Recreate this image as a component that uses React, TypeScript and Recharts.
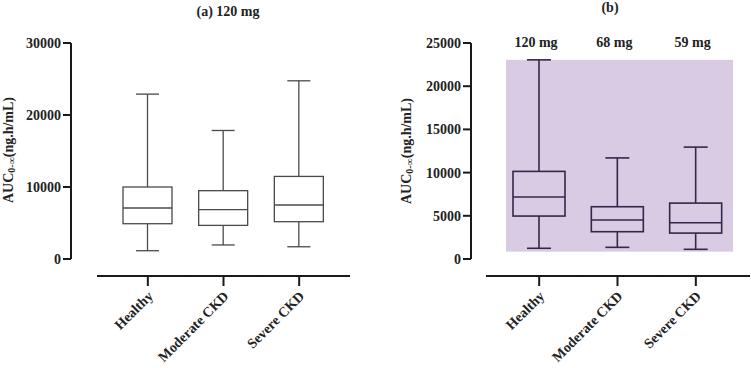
import React from 'react';
import { ComposedChart, Bar, XAxis, YAxis, ReferenceArea, LabelList } from 'recharts';

// box plot summaries per group (AUC, ng.h/mL)
const groups = ['Healthy', 'Moderate CKD', 'Severe CKD'];

// (a) all groups dosed at 120 mg
const minA = [1150, 1950, 1700];
const q1A = [4900, 4670, 5180];
const medianA = [7080, 6850, 7500];
const q3A = [10000, 9490, 11470];
const maxA = [22900, 17850, 24750];

// (b) dose-adjusted groups
const minB = [1240, 1350, 1120];
const q1B = [4970, 3160, 3000];
const medianB = [7170, 4510, 4200];
const q3B = [10140, 6050, 6470];
const maxB = [23050, 11700, 12950];
const dosesB = ['120 mg', '68 mg', '59 mg'];

const ticksA = [0, 10000, 20000, 30000];
const ticksB = [0, 5000, 10000, 15000, 20000, 25000];

// shaded band behind the boxes in (b)
const shadeLow = 850;
const shadeHigh = maxB[0];

const rowsA = groups.map((name, i) => ({
    name, min: minA[i], q1: q1A[i], median: medianA[i], q3: q3A[i], max: maxA[i],
}));
const rowsB = groups.map((name, i) => ({
    name, min: minB[i], q1: q1B[i], median: medianB[i], q3: q3B[i], max: maxB[i], dose: dosesB[i],
}));

const SERIF = "'Liberation Serif', 'Times New Roman', serif";
const AXIS = '#1a1a1a';
const tickStyle = { fontSize: 14, fontWeight: 'bold', fill: '#222', fontFamily: SERIF };

// draws whiskers, box and median from the [min, max] bar rectangle
const makeBox = (color: string, capW: number, sw: number) => (props: any) => {
    const { x, y, width, height, payload } = props;
    const { min, q1, median, q3, max } = payload;
    const py = (v: number) => y + ((max - v) / (max - min)) * height;
    const cx = x + width / 2;
    return (
        <g stroke={color} strokeWidth={sw} fill="none">
            <line x1={cx} x2={cx} y1={py(max)} y2={py(q3)} />
            <line x1={cx} x2={cx} y1={py(q1)} y2={py(min)} />
            <line x1={cx - capW / 2} x2={cx + capW / 2} y1={py(max)} y2={py(max)} />
            <line x1={cx - capW / 2} x2={cx + capW / 2} y1={py(min)} y2={py(min)} />
            <rect x={x} y={py(q3)} width={width} height={py(q1) - py(q3)} />
            <line x1={x} x2={x + width} y1={py(median)} y2={py(median)} />
        </g>
    );
};

// rotated category label; each tick also lays down its own stretch of the axis line
const makeXTick = (band: number, padL: number, padR: number) => (props: any) => {
    const { x, y, payload, index } = props;
    const axisY = y - 12;
    const last = groups.length - 1;
    const x1 = x - band / 2 - (index === 0 ? padL : 0);
    const x2 = x + band / 2 + (index === last ? padR : 0);
    return (
        <g>
            <line x1={x1} x2={x2} y1={axisY} y2={axisY} stroke={AXIS} strokeWidth={2} />
            <g transform={`translate(${x + 6},${y + 9})`}>
                <text textAnchor="end" transform="rotate(-45)" style={tickStyle} fill="#222">
                    {payload.value}
                </text>
            </g>
        </g>
    );
};

const YTitle = ({ cx, cy }: { cx: number; cy: number }) => (
    <text
        x={cx} y={cy} transform={`rotate(-90, ${cx}, ${cy})`}
        textAnchor="middle" dominantBaseline="central"
        style={{ fontSize: 14, fontWeight: 'bold', fontFamily: SERIF }} fill="#222"
    >
        <tspan>AUC</tspan>
        <tspan fontSize={10} dy={3}>0-∞</tspan>
        <tspan dy={-3}>(ng.h/mL)</tspan>
    </text>
);

const DoseLabel = (props: any) => {
    const { x, width, value } = props;
    return (
        <text x={x + width / 2 - 3} y={47} textAnchor="middle" style={tickStyle} fill="#222">
            {value}
        </text>
    );
};

const yAxisProps = {
    axisLine: { stroke: AXIS, strokeWidth: 2 },
    tickLine: { stroke: AXIS, strokeWidth: 2 },
    tickSize: 8,
    tick: tickStyle,
    interval: 0 as const,
};

// the value chart stops just under zero; the category axis strip sits below it
const TOP_H = 268;

// detached category axis strip
const CategoryAxis = ({ data, width, left, right, padding, band }: any) => (
    <ComposedChart width={width} height={368 - TOP_H} data={data} margin={{ top: 0, right, bottom: 0, left }}>
        <XAxis
            dataKey="name" scale="band" height={92} interval={0} tickSize={10} padding={padding}
            axisLine={{ stroke: AXIS, strokeWidth: 2 }} tickLine={{ stroke: AXIS, strokeWidth: 2 }}
            tick={makeXTick(band, padding.left, padding.right)}
        />
        <YAxis hide domain={[0, 1]} />
    </ComposedChart>
);

const PanelA = () => (
    <div style={{ position: 'absolute', left: 0, top: 0, width: 375, height: 368 }}>
        <div style={{ position: 'absolute', left: 0, width: 456, top: 4, textAlign: 'center', font: `bold 14px ${SERIF}`, color: '#222' }}>
            (a) 120 mg
        </div>
        <div style={{ position: 'absolute', left: 0, top: 0 }}>
            <ComposedChart width={375} height={TOP_H} data={rowsA} margin={{ top: 43, right: 25, bottom: 9, left: 0 }}>
                <XAxis dataKey="name" hide padding={{ left: 39, right: 13 }} />
                <YAxis width={71} domain={[0, 30000]} ticks={ticksA} {...yAxisProps} label={<YTitle cx={8} cy={150} />} />
                <Bar dataKey={(d: any) => [d.min, d.max]} barSize={49} isAnimationActive={false}
                    shape={makeBox('#4a4a4a', 23, 1.3)} />
            </ComposedChart>
        </div>
        <div style={{ position: 'absolute', left: 0, top: TOP_H }}>
            <CategoryAxis data={rowsA} width={375} left={97} right={25} band={75.67} padding={{ left: 13, right: 13 }} />
        </div>
    </div>
);

const PanelB = () => (
    <div style={{ position: 'absolute', left: 375, top: 0, width: 376, height: 368 }}>
        <div style={{ position: 'absolute', left: 0, width: 470, top: 0, textAlign: 'center', font: `bold 14px ${SERIF}`, color: '#222' }}>
            (b)
        </div>
        <div style={{ position: 'absolute', left: 0, top: 0 }}>
            <ComposedChart width={376} height={TOP_H} data={rowsB} margin={{ top: 43, right: 1, bottom: 9, left: 0 }}>
                <XAxis dataKey="name" hide padding={{ left: 29, right: 15 }} />
                <YAxis width={96} domain={[0, 25000]} ticks={ticksB} {...yAxisProps} label={<YTitle cx={31} cy={151} />} />
                <ReferenceArea
                    x1="Healthy" x2="Severe CKD" y1={shadeLow} y2={shadeHigh}
                    shape={(p: any) => (
                        <rect x={p.x + 6} y={p.y} width={p.width - 8} height={p.height} fill="#d8cbe3" />
                    )}
                />
                <Bar dataKey={(d: any) => [d.min, d.max]} barSize={52} isAnimationActive={false}
                    shape={makeBox('#36264a', 24, 1.6)}>
                    <LabelList dataKey="dose" content={DoseLabel} />
                </Bar>
            </ComposedChart>
        </div>
        <div style={{ position: 'absolute', left: 0, top: TOP_H }}>
            <CategoryAxis data={rowsB} width={376} left={111} right={1} band={78.33} padding={{ left: 14, right: 15 }} />
        </div>
    </div>
);

export default function App() {
    return (
        <div style={{ position: 'absolute', left: 0, top: 0, width: 751, height: 368, background: '#fff' }}>
            <PanelA />
            <PanelB />
        </div>
    );
}
